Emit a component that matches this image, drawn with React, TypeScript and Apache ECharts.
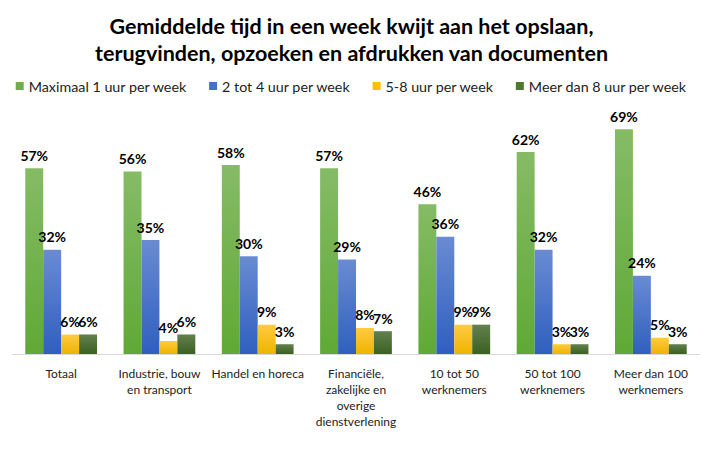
import React, { useEffect, useRef } from "react";
import * as echarts from "echarts";

const categories = [
  "Totaal",
  "Industrie, bouw\nen transport",
  "Handel en horeca",
  "Financiële,\nzakelijke en\noverige\ndienstverlening",
  "10 tot 50\nwerknemers",
  "50 tot 100\nwerknemers",
  "Meer dan 100\nwerknemers",
];
const seriesNames = [
  "Maximaal 1 uur per week",
  "2 tot 4 uur per week",
  "5-8 uur per week",
  "Meer dan 8 uur per week",
];
const max1 = [57, 56, 58, 57, 46, 62, 69];
const tot4 = [32, 35, 30, 29, 36, 32, 24];
const uur58 = [6, 4, 9, 8, 9, 3, 5];
const meer8 = [6, 6, 3, 7, 9, 3, 3];
const values = [max1, tot4, uur58, meer8];
const colorPairs = [
  ["#86bb66", "#5fa936"],
  ["#6a8bd2", "#2f5fbf"],
  ["#ffcb40", "#efb300"],
  ["#62804e", "#3b6121"],
];
const legendColors = ["#70ad47", "#4472c4", "#ffc000", "#4e7a30"];

export default function App() {
  const ref = useRef<HTMLDivElement>(null);
  useEffect(() => {
    if (!ref.current) return;
    const chart = echarts.init(ref.current, undefined, { renderer: "svg" });
    const font = "Lato, 'Liberation Sans', sans-serif";
    chart.setOption({
      animation: false,
      backgroundColor: "#ffffff",
      title: {
        text: "Gemiddelde tijd in een week kwijt aan het opslaan,\nterugvinden, opzoeken en afdrukken van documenten",
        left: "center",
        top: 7,
        textStyle: {
          fontFamily: font,
          fontSize: 21.5,
          fontWeight: "bold",
          color: "#000000",
          lineHeight: 27,
        },
      },
      legend: {
        top: 74,
        left: "center",
        itemWidth: 8,
        itemHeight: 8,
        itemGap: 22,
        icon: "rect",
        textStyle: { fontFamily: font, fontSize: 14.3, color: "#222222" },
        data: seriesNames.map((n, i) => ({ name: n, itemStyle: { color: legendColors[i] } })),
      },
      grid: { left: 12, right: 3, top: 126, bottom: 105, containLabel: false },
      xAxis: {
        type: "category",
        data: categories,
        axisLine: { lineStyle: { color: "#d9d9d9", width: 1 } },
        axisTick: { show: false },
        axisLabel: {
          interval: 0,
          margin: 11,
          fontFamily: font,
          fontSize: 12,
          lineHeight: 16,
          color: "#222222",
        },
      },
      yAxis: {
        type: "value",
        min: 0,
        max: 70,
        show: false,
        splitLine: { show: false },
      },
      series: values.map((v, i) => ({
        name: seriesNames[i],
        type: "bar",
        data: v,
        barGap: "0%",
        barCategoryGap: "27%",
        itemStyle: {
          color: new echarts.graphic.LinearGradient(0, 0, 0, 1, [
            { offset: 0, color: colorPairs[i][0] },
            { offset: 1, color: colorPairs[i][1] },
          ]),
        },
        label: {
          show: true,
          position: "top",
          distance: 6,
          formatter: "{c}%",
          fontFamily: font,
          fontSize: 14,
          fontWeight: "bold",
          color: "#000000",
        },
      })),
    });
    return () => chart.dispose();
  }, []);
  return (
    <div
      ref={ref}
      style={{ position: "absolute", left: 0, top: 0, width: 703, height: 459 }}
    />
  );
}
